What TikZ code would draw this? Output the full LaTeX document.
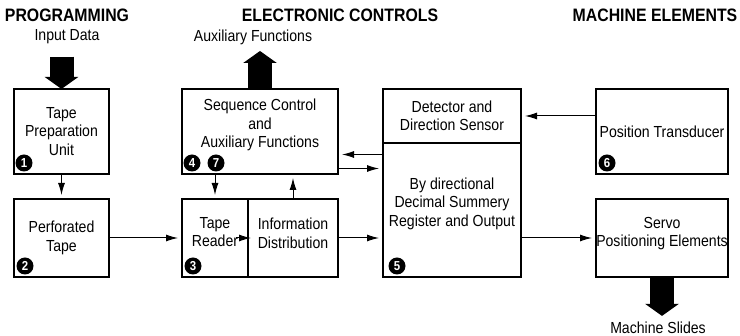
\documentclass[tikz,border=0pt]{standalone}
\usepackage{fontspec}
\setmainfont{Liberation Sans}[FakeStretch=0.88]
\usetikzlibrary{arrows.meta,positioning,calc}

\begin{document}
\begin{tikzpicture}[x=1pt,y=-1pt,font=\fontsize{16}{18.5}\selectfont,
 box/.style={draw,line width=1.5pt,outer sep=0pt,inner sep=0pt,align=center},
 head/.style={font=\fontsize{18}{20}\selectfont\bfseries},
 num/.style={circle,fill=black,text=white,font=\fontsize{13}{13}\selectfont\bfseries,inner sep=0pt,minimum size=17pt},
 arr/.style={-{Latex[length=12pt,width=7pt]},line width=1pt,shorten >=4pt},
 bigarr/.style={-{Triangle[length=12pt,width=33pt]},line width=24pt}]
\useasboundingbox (0,0) rectangle (740,336);
% headings
\node[head] (prog) at (67,15) {PROGRAMMING};
\node[head] (elec) at (340,15) {ELECTRONIC CONTROLS};
\node[head] (mach) at (655,15) {MACHINE ELEMENTS};
\node (indata) at (67,37) {Input Data};
\node (auxf) at (253,37) {Auxiliary Functions};
\node[inner sep=1pt] (slides) at (658,328) {Machine Slides};
% blocks
\node[box,minimum width=95,minimum height=85,anchor=north west] (tpu) at (14,89) {Tape\\Preparation\\Unit};
\node[box,minimum width=95,minimum height=78,below=25pt of tpu] (perf) {Perforated\\Tape};
\node[box,minimum width=156,minimum height=85,anchor=north west,text depth=16pt] (seq) at (182,89) {Sequence Control\\and\\Auxiliary Functions};
\node[box,minimum width=66,minimum height=78,anchor=north west,text depth=12pt] (tr) at (182,199) {Tape\\Reader};
\node[box,minimum width=90,minimum height=78,right=0pt of tr,text depth=10pt] (info) {Information\\Distribution};
\node[box,minimum width=138,minimum height=54,anchor=north west] (det) at (383,89) {Detector and\\Direction Sensor};
\node[box,minimum width=138,minimum height=134,below=0pt of det,text depth=16pt] (bydir) {By directional\\Decimal Summery\\Register and Output};
\node[box,minimum width=132,minimum height=85,anchor=north west] (pt) at (596,89) {Position Transducer};
\node[box,minimum width=132,minimum height=78,below=25pt of pt,text depth=12pt] (servo) {Servo\\Positioning Elements};
% numbers
\node[num] (n1) at (24,163) {1};
\node[num] (n2) at (25,266) {2};
\node[num] (n3) at (193,266) {3};
\node[num] (n4) at (192,163) {4};
\node[num] (n7) at (216,163) {7};
\node[num] (n5) at (397,266) {5};
\node[num] (n6) at (607,163) {6};
% block arrows
\draw[bigarr,shorten <=9pt] (tpu.north |- indata.south) -- (tpu.north);
\draw[bigarr,shorten >=3pt] (seq.north) -- (seq.north |- auxf.south);
\draw[bigarr,shorten >=5pt] (servo.south) -- (servo.south |- slides.north);
% signal lines
\coordinate (s1) at ([yshift=-23pt]seq.east);
\coordinate (s2) at ([yshift=-37pt]seq.east);
\draw[arr] (tpu) -- (perf);
\draw[arr] (perf.east) -- (perf.east -| tr.west);
\draw[arr] (tr.north |- seq.south) -- (tr.north);
\draw[arr] (info.north) -- (info.north |- seq.south);
\draw[arr,shorten >=0pt] ([xshift=-12pt]tr.east) -- ([xshift=3pt]tr.east);
\draw[arr] (info.east) -- (info.east -| bydir.west);
\draw[arr] (bydir.west |- s1) -- (s1);
\draw[arr] (s2) -- (bydir.west |- s2);
\draw[arr] (det.east -| pt.west) -- (det.east);
\draw[arr] (bydir.east |- servo.west) -- (servo.west);
\end{tikzpicture}
\end{document}
